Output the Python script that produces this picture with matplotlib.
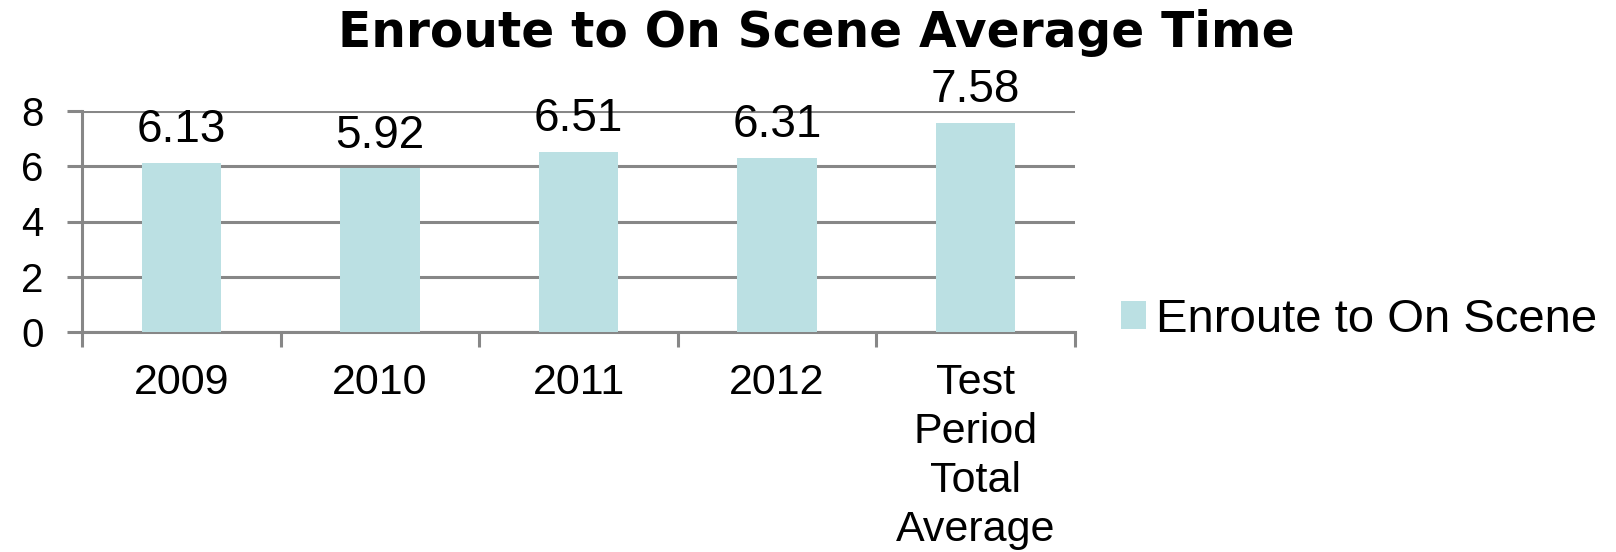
import matplotlib
matplotlib.use("Agg")
import matplotlib.pyplot as plt
from matplotlib.patches import Patch

categories = ["2009", "2010", "2011", "2012", "Test\nPeriod\nTotal\nAverage"]
values = [6.13, 5.92, 6.51, 6.31, 7.58]
value_labels = ["6.13", "5.92", "6.51", "6.31", "7.58"]
yticks = [0, 2, 4, 6, 8]
series_name = "Enroute to On Scene"
title = "Enroute to On Scene Average Time"

bar_color = "#BBE0E3"
grid_color = "#878787"
plt.rcParams["font.family"] = ["Liberation Sans", "DejaVu Sans"]

W, H = 1616, 552
fig = plt.figure(figsize=(W / 100, H / 100), dpi=100)
ax = fig.add_axes([82 / W, 1 - 332 / H, (1075 - 82) / W, (332 - 111) / H])

x = list(range(len(categories)))
bars = ax.bar(x, values, width=0.4, color=bar_color, zorder=3)

ax.set_xlim(-0.5, len(categories) - 0.5)
ax.set_ylim(0, 8)

# horizontal gridlines behind the bars
ax.set_yticks(yticks)
ax.set_yticklabels([str(v) for v in yticks], fontsize=29)
ax.yaxis.grid(True, color=grid_color, linewidth=2.2, zorder=0)
ax.tick_params(axis="y", length=10.8, width=2.2, color=grid_color, pad=17)

# category labels centred, tick marks at category boundaries
ax.set_xticks(x)
ax.set_xticklabels(categories, fontsize=31, linespacing=1.3)
ax.tick_params(axis="x", which="major", length=0, pad=22)
ax.set_xticks([i - 0.5 for i in range(len(categories) + 1)], minor=True)
ax.tick_params(axis="x", which="minor", length=10.8, width=2.2, color=grid_color)

for side in ("top", "right"):
    ax.spines[side].set_visible(False)
for side in ("left", "bottom"):
    ax.spines[side].set_color(grid_color)
    ax.spines[side].set_linewidth(2.2)
    ax.spines[side].set_zorder(1)

for rect, lab in zip(bars, value_labels):
    ax.annotate(lab, (rect.get_x() + rect.get_width() / 2, rect.get_height()),
                xytext=(0, 15), textcoords="offset points",
                ha="center", va="baseline", fontsize=33, annotation_clip=False)

fig.text(816 / W, 1 - 47 / H, title, ha="center", va="baseline",
         fontsize=35, fontweight="bold", family=["DejaVu Sans"])

fig.legend(handles=[Patch(facecolor=bar_color, label=series_name)],
           loc="center left", bbox_to_anchor=(1121 / W, 1 - 320 / H),
           frameon=False, fontsize=34, handlelength=0.53, handleheight=0.53,
           handletextpad=0.22, borderpad=0, borderaxespad=0)

fig.savefig("out.png", dpi=100)
